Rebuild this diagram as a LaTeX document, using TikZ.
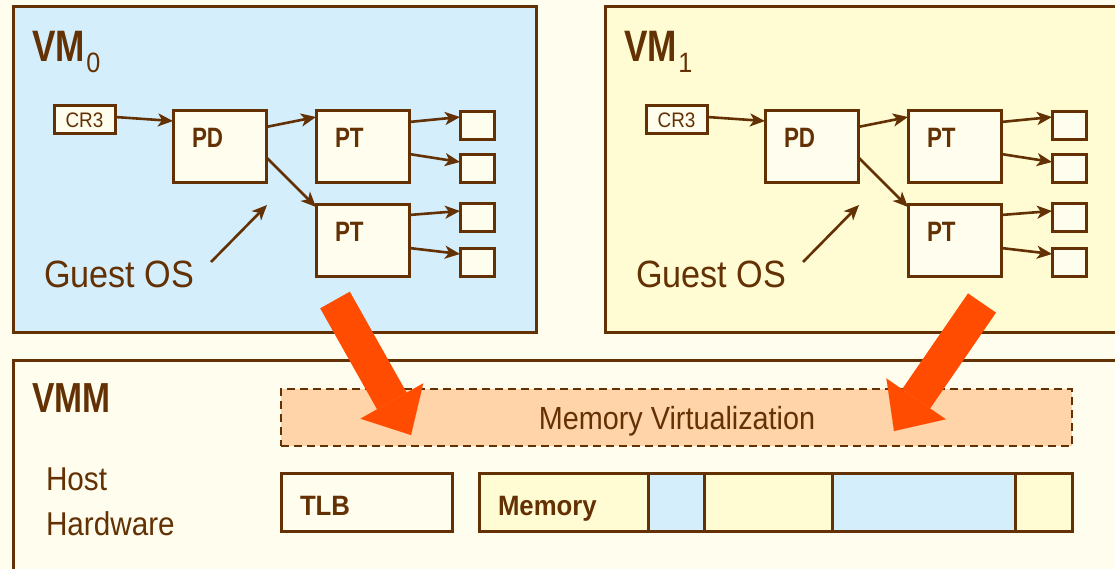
\documentclass[tikz,border=0pt]{standalone}
\usepackage{fontspec}
\setmainfont{Liberation Sans}[FakeStretch=0.9]
\newfontfamily\headfont{Liberation Sans}[FakeStretch=0.8]
\newfontfamily\labfont{Liberation Sans}[FakeStretch=0.92]
\usetikzlibrary{arrows.meta}

\definecolor{ink}{HTML}{633104}
\definecolor{page}{HTML}{FFFDEE}
\definecolor{vmblue}{HTML}{D4EEFC}
\definecolor{vmyellow}{HTML}{FFFCD4}
\definecolor{peach}{HTML}{FFD4A8}
\definecolor{flame}{HTML}{FF4C00}

\tikzset{
  frame/.style={draw=ink, line width=3pt, inner sep=0pt, outer sep=0pt},
  box/.style={frame, fill=page},
  txt/.style={inner sep=0pt, outer sep=0pt, text=ink},
  link/.style={draw=ink, line width=2.6pt, -{Stealth[length=15pt,width=13pt,inset=4pt]}},
  bigarrow/.style={draw=flame, line width=34pt,
    -{Triangle[length=39pt,width=72pt,line width=0.01pt]}},
}

\begin{document}
\begin{tikzpicture}[x=1pt,y=-1pt]
\useasboundingbox (0,0) rectangle (1115,569);
\clip (0,0) rectangle (1115,569);
\fill[page] (0,0) rectangle (1115,569);

% the two guest machines with their page-table trees
\foreach \i/\dx/\col in {0/0/vmblue, 1/592/vmyellow}{
  \node[frame, fill=\col, minimum width=523pt, minimum height=325pt] (vm\i) at (274.5+\dx,169.5) {};
  \node[txt, anchor=base west] (vmlbl\i) at (32+\dx,62)
    {{\headfont\bfseries\fontsize{44}{44}\selectfont VM}\kern1.5pt\raisebox{-11pt}{\fontsize{28}{28}\selectfont\i}};

  \node[box, minimum width=61pt, minimum height=28pt, text=ink,
        font=\fontsize{21}{21}\selectfont] (cr3\i) at (84.5+\dx,120) {CR3};
  \node[box, minimum width=93pt, minimum height=72pt] (pd\i) at (219.5+\dx,147) {};
  \node[box, minimum width=93pt, minimum height=72pt] (pta\i) at (362.5+\dx,147) {};
  \node[box, minimum width=93pt, minimum height=71pt] (ptb\i) at (362.5+\dx,240.5) {};
  \foreach \y/\n in {125.5/a,168.5/b,218/c,262/d}
    \node[box, minimum width=34pt, minimum height=28pt] (pg\n\i) at (477+\dx,\y) {};

  \node[txt, anchor=base west, font=\headfont\bfseries\fontsize{28}{28}\selectfont] (pdtext\i) at (192+\dx,148) {PD};
  \node[txt, anchor=base west, font=\headfont\bfseries\fontsize{28}{28}\selectfont] (ptatext\i) at (335+\dx,148) {PT};
  \node[txt, anchor=base west, font=\headfont\bfseries\fontsize{28}{28}\selectfont] (ptbtext\i) at (335+\dx,241) {PT};

  \draw[link] ([yshift=3pt]cr3\i.east) -- ([yshift=26pt]pd\i.west);
  \draw[link] ([yshift=20pt]pd\i.east) -- ([yshift=30pt]pta\i.west);
  \draw[link] ([yshift=-10pt]pd\i.east) -- ([yshift=-2pt]ptb\i.north west);
  \draw[link] ([yshift=25pt]pta\i.east) -- ([yshift=8.5pt]pga\i.west);
  \draw[link] ([yshift=-7pt]pta\i.east) -- ([yshift=6.5pt]pgb\i.west);
  \draw[link] ([yshift=25.5pt]ptb\i.east) -- ([yshift=7pt]pgc\i.west);
  \draw[link] ([yshift=-7.5pt]ptb\i.east) -- ([yshift=8pt]pgd\i.west);

  \node[txt, anchor=base west, font=\fontsize{38}{38}\selectfont] (guest\i) at (44+\dx,287) {Guest OS};
  \coordinate (gfrom\i) at (211+\dx,262);
  \coordinate (gto\i) at (267+\dx,205);
  \draw[link] (gfrom\i) -- (gto\i);
}

% the monitor and the host hardware
\node[frame, fill=page, minimum width=1117pt, minimum height=240pt] (vmm) at (571.5,480) {};
\node[txt, anchor=base west, font=\headfont\bfseries\fontsize{42}{42}\selectfont] (vmmlbl) at (32,412) {VMM};
\node[txt, anchor=base west, font=\fontsize{33}{33}\selectfont] (host) at (46,490) {Host};
\node[txt, anchor=base west, font=\fontsize{33}{33}\selectfont] (hardware) at (46,535) {Hardware};

\node[frame, line width=2.6pt, dash pattern=on 8pt off 5pt, fill=peach,
      minimum width=791pt, minimum height=57pt] (mv) at (676.5,417.5) {};
\node[txt, anchor=base, font=\fontsize{32}{32}\selectfont] (mvtext) at (677,429) {Memory Virtualization};

\node[box, minimum width=171pt, minimum height=58pt] (tlb) at (366.5,502) {};
\node[txt, anchor=base west, font=\labfont\bfseries\fontsize{28}{28}\selectfont] (tlbtext) at (300,515) {TLB};

\foreach \a/\b/\c [count=\k] in {479/648.5/vmyellow, 648.5/704/vmblue, 704/832.6/vmyellow, 832.6/1015.6/vmblue, 1015.6/1072/vmyellow}
  \node[frame, fill=\c, minimum width={(\b-\a)*1pt}, minimum height=58pt] (mem\k) at ({(\a+\b)/2},502) {};
\node[txt, anchor=base west, font=\labfont\bfseries\fontsize{28}{28}\selectfont] (memtext) at (498,515) {Memory};

% mapping of guest tables onto the monitor
\coordinate (s0) at (335,300);
\coordinate (t0) at (411,435);
\coordinate (s1) at (982,303);
\coordinate (t1) at (894,431);
\draw[bigarrow] (s0) -- (t0);
\draw[bigarrow] (s1) -- (t1);
\end{tikzpicture}
\end{document}
